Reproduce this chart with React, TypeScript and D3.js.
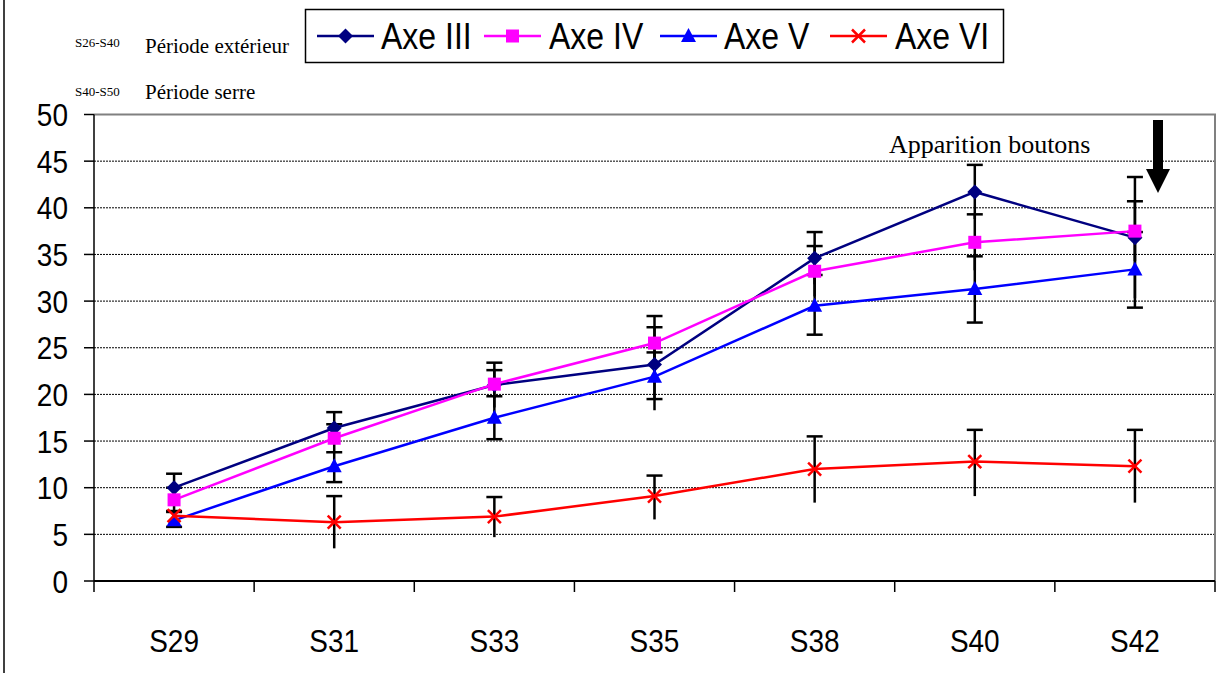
import React from 'react';
import * as d3 from 'd3';

// weeks (x categories)
const weeks = ['S29', 'S31', 'S33', 'S35', 'S38', 'S40', 'S42'];
const yTicks = [0, 5, 10, 15, 20, 25, 30, 35, 40, 45, 50];

// mean values and error (+/-) per axis
const axeIII = [10.0, 16.4, 21.0, 23.2, 34.6, 41.7, 36.8];
const axeIIIErr = [1.5, 1.7, 2.4, 4.0, 2.8, 2.9, 6.5];
const axeIIIErrLow = [1.5, 1.7, 2.4, 4.9, 2.8, 2.9, 6.5];
const axeIV = [8.7, 15.3, 21.1, 25.5, 33.2, 36.3, 37.5];
const axeIVErr = [1.3, 1.5, 1.5, 2.9, 2.7, 3.0, 3.2];
const axeIVErrLow = [1.3, 1.5, 1.5, 2.9, 2.7, 3.0, 3.2];
const axeV = [6.5, 12.3, 17.5, 21.9, 29.5, 31.3, 33.4];
const axeVErr = [0.9, 1.5, 2.3, 2.6, 3.3, 3.5, 4.0];
const axeVErrLow = [0.7, 1.7, 2.3, 2.4, 3.1, 3.6, 4.1];
const axeVI = [7.0, 6.3, 6.9, 9.1, 12.0, 12.8, 12.3];
const axeVIErr = [0.5, 2.8, 2.1, 2.2, 3.5, 3.4, 3.9];
const axeVIErrLow = [0.5, 2.8, 2.2, 2.5, 3.6, 3.7, 3.9];

const seriesNames = ['Axe III', 'Axe IV', 'Axe V', 'Axe VI'];
const seriesColors = ['#000080', '#ff00ff', '#0000ff', '#ff0000'];
const seriesShapes = ['diamond', 'square', 'triangle', 'cross'];

const W = 1229;
const H = 673;
const plot = { left: 94, right: 1215, top: 114.5, bottom: 581 };
const stretch = 1.15; // the original text is a bit taller than plain Arial

const sans = '"Liberation Sans", Arial, sans-serif';
const serif = '"Liberation Serif", "Times New Roman", serif';

function Marker({ shape, color, cx, cy }: { shape: string; color: string; cx: number; cy: number }) {
  if (shape === 'diamond') {
    return <path d={`M${cx},${cy - 7.5}L${cx + 7.5},${cy}L${cx},${cy + 7.5}L${cx - 7.5},${cy}Z`} fill={color} />;
  }
  if (shape === 'square') {
    return <rect x={cx - 6.5} y={cy - 6.5} width={13} height={13} fill={color} />;
  }
  if (shape === 'triangle') {
    return <path d={`M${cx},${cy - 8}L${cx + 7.5},${cy + 6}L${cx - 7.5},${cy + 6}Z`} fill={color} />;
  }
  return (
    <g stroke={color} strokeWidth={2.5}>
      <line x1={cx - 6.5} y1={cy - 6.5} x2={cx + 6.5} y2={cy + 6.5} />
      <line x1={cx - 6.5} y1={cy + 6.5} x2={cx + 6.5} y2={cy - 6.5} />
    </g>
  );
}

function Label({ x, y, size, anchor, children }: { x: number; y: number; size: number; anchor?: string; children: React.ReactNode }) {
  return (
    <text
      transform={`translate(${x},${y}) scale(1,${stretch})`}
      textAnchor={anchor || 'start'}
      fontFamily={sans}
      fontSize={size}
    >
      {children}
    </text>
  );
}

export default function App() {
  const x = d3.scaleBand().domain(weeks).range([plot.left, plot.right]).padding(0);
  const y = d3.scaleLinear().domain([0, 50]).range([plot.bottom, plot.top]);
  const cx = (w: string) => (x(w) as number) + x.bandwidth() / 2;

  // only Axe V shows a cap on the lower bar
  const series = [
    { values: axeIII, up: axeIIIErr, low: axeIIIErrLow, lowCap: false },
    { values: axeIV, up: axeIVErr, low: axeIVErrLow, lowCap: false },
    { values: axeV, up: axeVErr, low: axeVErrLow, lowCap: true },
    { values: axeVI, up: axeVIErr, low: axeVIErrLow, lowCap: false },
  ];

  const line = d3
    .line<number>()
    .x((_, i) => cx(weeks[i]))
    .y((d) => y(d));

  // legend entries
  const legendLineX = [317, 484, 660, 830];
  const legendTextX = [381, 549, 724, 895];
  const legendY = 36;

  return (
    <svg width={W} height={H} style={{ position: 'absolute', left: 0, top: 0, background: '#fff' }}>
      {/* outer frame edge */}
      <line x1={4} y1={0} x2={4} y2={H} stroke="#000" strokeWidth={1.5} />

      {/* gridlines */}
      {yTicks.filter((t) => t > 0 && t < 50).map((t) => (
        <line key={t} x1={plot.left} x2={plot.right} y1={y(t)} y2={y(t)} stroke="#000" strokeWidth={1} strokeDasharray="2 1" />
      ))}
      {/* plot area border (top/right) */}
      <polyline
        points={`${plot.left},${y(50)} ${plot.right},${y(50)} ${plot.right},${plot.bottom}`}
        fill="none"
        stroke="#808080"
        strokeWidth={2}
      />

      {/* y axis */}
      <line x1={plot.left} x2={plot.left} y1={y(50)} y2={plot.bottom + 11} stroke="#000" strokeWidth={1.5} />
      {yTicks.map((t) => (
        <g key={t}>
          <line x1={plot.left - 10} x2={plot.left} y1={y(t)} y2={y(t)} stroke="#000" strokeWidth={1.5} />
          <Label x={68} y={y(t) + 11.5} size={28} anchor="end">
            {t}
          </Label>
        </g>
      ))}

      {/* x axis */}
      <line x1={plot.left} x2={plot.right} y1={plot.bottom} y2={plot.bottom} stroke="#000" strokeWidth={2} />
      {weeks.map((w) => (
        <line key={w} x1={(x(w) as number) + x.bandwidth()} x2={(x(w) as number) + x.bandwidth()} y1={plot.bottom} y2={plot.bottom + 11} stroke="#000" strokeWidth={1.5} />
      ))}
      {weeks.map((w) => (
        <Label key={w} x={cx(w)} y={652} size={28} anchor="middle">
          {w}
        </Label>
      ))}

      {/* error bars */}
      {series.map((s, si) =>
        s.values.map((v, i) => {
          const px = cx(weeks[i]);
          const top = y(v + s.up[i]);
          const bot = y(v - s.low[i]);
          return (
            <g key={`${si}-${i}`} stroke="#000" strokeWidth={2.5}>
              <line x1={px} x2={px} y1={top} y2={bot} />
              <line x1={px - 8} x2={px + 8} y1={top} y2={top} />
              {s.lowCap && <line x1={px - 8} x2={px + 8} y1={bot} y2={bot} />}
            </g>
          );
        })
      )}

      {/* lines and markers */}
      {series.map((s, si) => (
        <g key={si}>
          <path d={line(s.values) as string} fill="none" stroke={seriesColors[si]} strokeWidth={2.5} />
          {s.values.map((v, i) => (
            <Marker key={i} shape={seriesShapes[si]} color={seriesColors[si]} cx={cx(weeks[i])} cy={y(v)} />
          ))}
        </g>
      ))}

      {/* annotation */}
      <text x={889} y={153} fontFamily={serif} fontSize={26}>
        Apparition boutons
      </text>
      <path d="M1153,120L1163,120L1163,169L1170,169L1158,193L1146,169L1153,169Z" fill="#000" />

      {/* period notes */}
      <text x={75} y={47} fontFamily={serif} fontSize={13}>S26-S40</text>
      <text x={145} y={53} fontFamily={serif} fontSize={21}>Période extérieur</text>
      <text x={75} y={96} fontFamily={serif} fontSize={13}>S40-S50</text>
      <text x={145} y={99} fontFamily={serif} fontSize={21}>Période serre</text>

      {/* legend */}
      <rect x={305.5} y={9.5} width={698} height={53} fill="#fff" stroke="#000" strokeWidth={1.5} />
      {seriesNames.map((n, i) => (
        <g key={n}>
          <line x1={legendLineX[i]} x2={legendLineX[i] + 57} y1={legendY} y2={legendY} stroke={seriesColors[i]} strokeWidth={2.5} />
          <Marker shape={seriesShapes[i]} color={seriesColors[i]} cx={legendLineX[i] + 28.5} cy={legendY} />
          <Label x={legendTextX[i]} y={legendY + 13} size={32}>
            {n}
          </Label>
        </g>
      ))}
    </svg>
  );
}
